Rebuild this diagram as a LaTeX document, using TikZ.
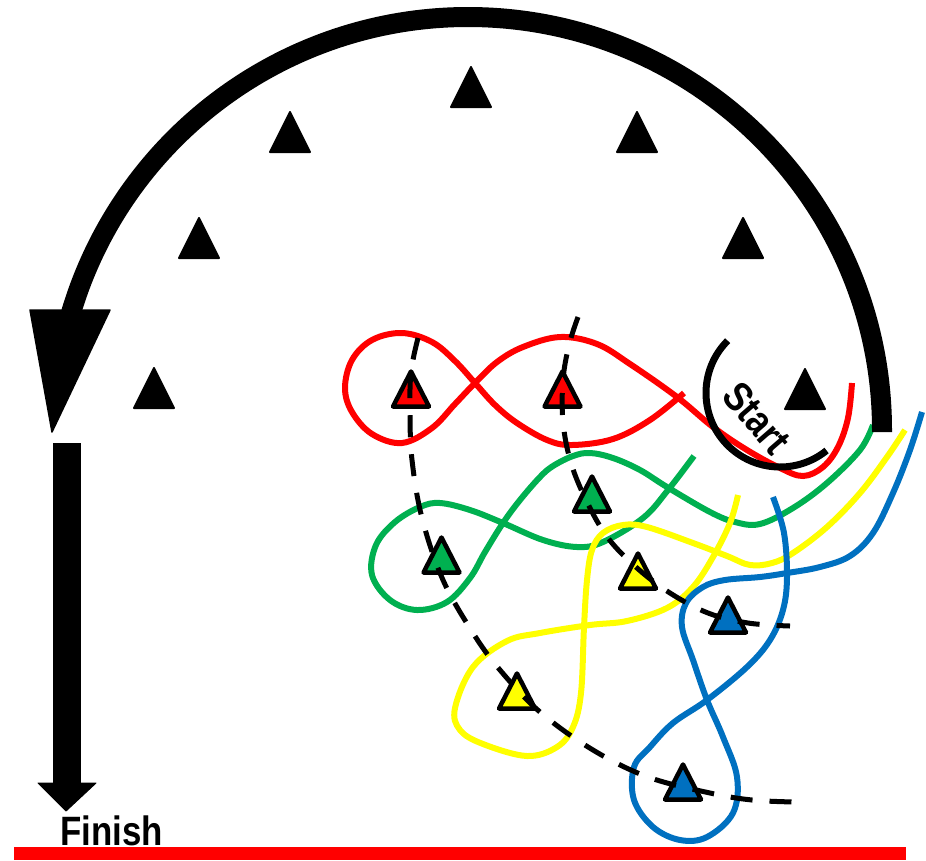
\documentclass[tikz,border=0pt]{standalone}
\usepackage{fontspec}
\usepackage{graphicx}
\setmainfont{Liberation Sans}
\definecolor{cred}{HTML}{FF0000}
\definecolor{cgreen}{HTML}{00B050}
\definecolor{cyellow}{HTML}{FFFF00}
\definecolor{cblue}{HTML}{0070C0}
\newcommand\drillfont{\fontsize{41}{41}\selectfont\bfseries}
\begin{document}
\begin{tikzpicture}[x=1pt,y=-1pt,
  cone/.style={fill=black, draw=black, line width=2pt, line join=round},
  marker/.style={draw=black, line width=4.5pt, line join=round},
  rope/.style={line width=6pt, line cap=butt},
  track/.style={draw=black, line width=5pt, dash pattern=on 22pt off 17pt},
]
\useasboundingbox (0,0) rectangle (926,860);

% ---- running lines of the four groups ----
\draw[rope, cred] plot[smooth, tension=0.6] coordinates {
  (852,383) (848,418) (838,447) (823,467) (803,476) (780,468) (747,450)
  (713,427) (677,397) (630,364) (597,344) (560,337) (523,347) (497,362)
  (475,383) (455,404) (432,428) (402,443) (372,434) (352,412) (345,388)
  (352,360) (372,340) (402,333) (432,342) (455,361) (475,383) (495,405)
  (517,423) (547,440) (572,445) (613,439) (650,420) (684,393)};
\draw[rope, cgreen] plot[smooth, tension=0.6] coordinates {
  (873,425) (860,450) (827,483) (793,508) (760,524) (735,522) (710,512)
  (667,487) (640,470) (613,458) (590,453) (573,456) (553,466) (540,477)
  (520,500) (503,523) (485,552) (470,578) (447,602) (417,610) (390,600)
  (372,575) (376,545) (395,522) (420,507) (440,503) (470,510) (503,523)
  (543,540) (577,547) (603,542) (643,518) (668,490) (694,456)};
\draw[rope, cyellow] plot[smooth, tension=0.6] coordinates {
  (905,430) (887,457) (860,493) (827,527) (793,553) (772,563) (750,565)
  (727,556) (693,543) (647,527) (623,525) (603,533) (592,550) (587,580)
  (584,627) (581,693) (573,727) (557,747) (527,756) (483,744) (460,730)
  (455,708) (473,667) (507,641) (540,633) (590,625) (627,621) (667,608)
  (693,587) (713,557) (730,523) (738,495)};
\draw[rope, cblue] plot[smooth, tension=0.6] coordinates {
  (922,412) (910,450) (893,493) (873,533) (850,556) (820,567) (787,573)
  (760,577) (725,580) (703,587) (686,603) (682,627) (693,660) (707,700)
  (723,737) (737,777) (733,813) (707,837) (680,840) (653,827) (634,800)
  (634,767) (650,747) (673,723) (707,700) (747,667) (770,640) (783,610)
  (787,577) (784,533) (773,497)};

% ---- black cones of the outer course ----
\foreach \cx/\cy in {471/107, 290/152, 637/152, 199/258, 743/258, 154/408, 805/409}
  \filldraw[cone] (\cx-20,\cy) -- (\cx+20,\cy) -- (\cx,\cy-40) -- cycle;

% ---- coloured cones ----
\foreach \cx/\cy/\cc in {411/406.5/cred, 562.5/406.5/cred, 592/511.5/cgreen,
    441.5/572.5/cgreen, 638/588.5/cyellow, 728/632.5/cblue,
    517/708.5/cyellow, 683/799.5/cblue}
  \filldraw[marker, fill=\cc] (\cx-18,\cy) -- (\cx+18,\cy) -- (\cx,\cy-35) -- cycle;

% ---- dashed guide lines ----
\draw[track] plot[smooth, tension=0.6] coordinates {
  (418,338) (411,372) (410,413) (412,460) (422,518) (443,580) (473,633)
  (500,670) (540,712) (593,750) (648,777) (710,793) (752,800) (795,802)};
\draw[track] plot[smooth, tension=0.6] coordinates {
  (578,317) (569,345) (563,380) (563,422) (571,463) (587,502) (608,538)
  (637,568) (670,593) (708,613) (748,623) (790,626)};

% ---- start mark ----
\draw[line width=7pt] (780,393) ++(225:74) arc[start angle=225, end angle=51, radius=74];
\node[rotate=-49, inner sep=0] (start) at (757,418) {\drillfont\scalebox{0.85}[1]{Start}};

% ---- main run around the course ----
\draw[line width=20pt] (882,432) -- (882,430)
  arc[start angle=0, end angle=-165, x radius=414, y radius=413];
\filldraw[line width=1.5pt, line join=round] (30,310) -- (110,310) -- (52,432) -- cycle;

% ---- run to the finish ----
\fill (53,443) rectangle (81,784);
\filldraw[line width=1pt, line join=round] (38,783) -- (96,783) -- (66,811) -- cycle;
\node[anchor=base west, inner sep=0] (finish) at (60,845) {\drillfont\scalebox{0.85}[1]{Finish}};
\fill[cred] (14,847) rectangle (906,860);
\end{tikzpicture}
\end{document}
